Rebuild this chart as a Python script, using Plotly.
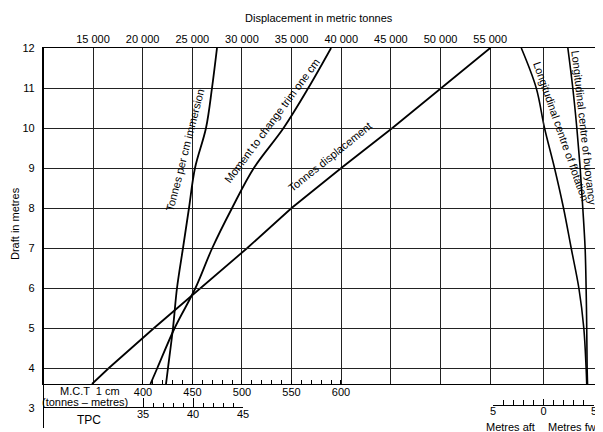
import plotly.graph_objects as go

# ---- data ----
draft = [3.6, 4, 5, 6, 7, 8, 9, 10, 11, 12]
displacement = [14900, 16600, 21150, 25870, 30540, 35000, 40000, 45150, 50100, 55000]
tpc = [37.3, 37.5, 38.0, 38.4, 39.0, 39.6, 40.2, 41.3, 41.9, 42.4]
mct = [407.5, 414.5, 432, 453, 470, 490, 512, 542, 567, 590]
lcf = [4.28, 4.22, 3.99, 3.5, 2.74, 1.98, 1.09, 0.1, -0.72, -2.2]
lcb = [4.36, 4.32, 4.28, 4.22, 4.12, 3.89, 3.63, 3.3, 2.9, 2.41]

disp_ticks = [15000, 20000, 25000, 30000, 35000, 40000, 45000, 50000, 55000]
disp_ticktext = ["15 000", "20 000", "25 000", "30 000", "35 000", "40 000", "45 000", "50 000", "55 000"]
draft_ticks = [3, 4, 5, 6, 7, 8, 9, 10, 11, 12]
mct_ticks = [400, 450, 500, 550, 600]
tpc_ticks = [35, 40, 45]
lc_ticks = [-5, 0, 5]
lc_ticktext = ["5", "0", "5"]

FONT = "Liberation Sans, Arial, sans-serif"

# page offset produced by the default body margin of the html page
OFF = 8
W, H = 603, 432
# desired plot box in page pixels
PL, PR, PT, PB = 43, 596, 48, 428
ML, MT = PL - OFF, PT - OFF
MR = W - (PR - OFF)
MB = H - (PB - OFF)
PW, PH = PR - PL, PB - PT


def px_x(x):
    return (x - PL) / PW


def px_y(y):
    return (PB - y) / PH


fig = go.Figure()
fig.add_trace(go.Scatter(x=displacement, y=draft, xaxis="x", yaxis="y2", mode="lines",
                         line=dict(color="black", width=1.8), hoverinfo="skip"))
fig.add_trace(go.Scatter(x=mct, y=draft, xaxis="x2", yaxis="y2", mode="lines",
                         line=dict(color="black", width=1.8, shape="spline"), hoverinfo="skip"))
fig.add_trace(go.Scatter(x=tpc, y=draft, xaxis="x3", yaxis="y", mode="lines",
                         line=dict(color="black", width=1.8, shape="spline"), hoverinfo="skip"))
fig.add_trace(go.Scatter(x=lcf, y=draft, xaxis="x4", yaxis="y2", mode="lines",
                         line=dict(color="black", width=1.6, shape="spline"), hoverinfo="skip"))
fig.add_trace(go.Scatter(x=lcb, y=draft, xaxis="x4", yaxis="y2", mode="lines",
                         line=dict(color="black", width=1.6, shape="spline"), hoverinfo="skip"))

fig.update_layout(
    width=W, height=H,
    margin=dict(l=ML, r=MR, t=MT, b=MB, autoexpand=False),
    paper_bgcolor="white", plot_bgcolor="rgba(0,0,0,0)",
    showlegend=False,
    font=dict(family=FONT, size=11, color="black"),
    # displacement (top)
    xaxis=dict(domain=[0, 1], range=[9965, 65655], anchor="y2", side="top",
               tickmode="array", tickvals=disp_ticks, ticktext=disp_ticktext,
               showgrid=True, gridcolor="#222", gridwidth=1,
               showline=True, linecolor="black", linewidth=1.2, mirror=True,
               ticks="", zeroline=False, tickfont=dict(size=11)),
    # MCT 1 cm scale on bottom frame line
    xaxis2=dict(domain=[0, 1], range=[299, 857.6], anchor="y2", side="bottom",
                tickmode="array", tickvals=mct_ticks, ticks="inside", ticklen=4,
                tickcolor="black", tickwidth=1,
                minor=dict(tickmode="array",
                           tickvals=[v for v in range(410, 600, 10) if v % 50],
                           ticks="inside", ticklen=4, tickcolor="black", tickwidth=1),
                showgrid=False, showline=False, zeroline=False, tickfont=dict(size=11)),
    # TPC scale
    xaxis3=dict(domain=[0, px_x(243)], range=[25, 45], anchor="free", position=px_y(407),
                side="bottom", tickmode="array", tickvals=tpc_ticks,
                ticks="inside", ticklen=9, tickcolor="black", tickwidth=1, ticklabelstandoff=-3,
                minor=dict(tickmode="array", tickvals=[36, 37, 38, 39, 41, 42, 43, 44],
                           ticks="inside", ticklen=4, tickcolor="black", tickwidth=1),
                showgrid=False, showline=True, linecolor="black", linewidth=1,
                zeroline=False, tickfont=dict(size=11)),
    # LCB / LCF scale (metres aft / fwd)
    xaxis4=dict(domain=[px_x(493), px_x(594)], range=[-5, 5], anchor="free", position=px_y(405),
                side="bottom", tickmode="array", tickvals=lc_ticks, ticktext=lc_ticktext,
                ticks="inside", ticklen=6, tickcolor="black", tickwidth=1, ticklabelstandoff=-4,
                minor=dict(tickmode="array", tickvals=[-4, -3, -2, -1, 1, 2, 3, 4],
                           ticks="inside", ticklen=5, tickcolor="black", tickwidth=1),
                showgrid=False, showline=True, linecolor="black", linewidth=1,
                zeroline=False, tickfont=dict(size=11)),
    # main draft axis
    yaxis=dict(domain=[0, 1], range=[2.5, 12], anchor="free", position=0,
               tickmode="array", tickvals=draft_ticks, ticks="", ticklabelstandoff=6,
               showgrid=False, showline=True, linecolor="black", linewidth=1.2,
               zeroline=False, tickfont=dict(size=11)),
    # grid box
    yaxis2=dict(domain=[px_y(384), 1], range=[3.6, 12], anchor="x",
                tickmode="array", tickvals=[4, 5, 6, 7, 8, 9, 10, 11],
                showticklabels=False, ticks="", showgrid=True, gridcolor="#222", gridwidth=1,
                showline=True, linecolor="black", linewidth=1.2, mirror=True, zeroline=False),
)

# zero line of the LCB/LCF scale
fig.add_shape(type="line", xref="x4", yref="y2", x0=0, x1=0, y0=3.6, y1=12,
              line=dict(color="#222", width=1))


def paper_text(text, x, y, angle=0, size=11, xanchor="center"):
    return dict(text=text, xref="paper", yref="paper", x=px_x(x), y=px_y(y),
                showarrow=False, textangle=angle, xanchor=xanchor, yanchor="middle",
                font=dict(size=size))


ann = []
ann.append(paper_text("Displacement in metric tonnes", 319, 18))
ann.append(paper_text("Draft in metres", 15, 224, angle=-90))
# curve labels (placed in page pixels beside each curve)
ann.append(paper_text("Tonnes per cm immersion", 185, 150, angle=-75.6))
ann.append(paper_text("Moment to change trim one cm", 271.5, 120.5, angle=-53.4))
ann.append(paper_text("Tonnes displacement", 329.5, 156.5, angle=-38.9))
ann.append(paper_text("Longitudinal centre of flotation", 561, 131, angle=70.6))
ann.append(paper_text("Longitudinal centre of buoyancy", 584, 128, angle=83.6))
# scale captions
ann.append(paper_text("M.C.T  1 cm", 90, 391))
ann.append(paper_text("(tonnes \u2013 metres)", 85, 401.5))
ann.append(paper_text("TPC", 89, 420, size=12))
ann.append(paper_text("Metres aft", 510, 426.5))
ann.append(paper_text("Metres fwd", 546, 426.5, xanchor="left"))
fig.update_layout(annotations=ann)

fig.write_html("out.html")
